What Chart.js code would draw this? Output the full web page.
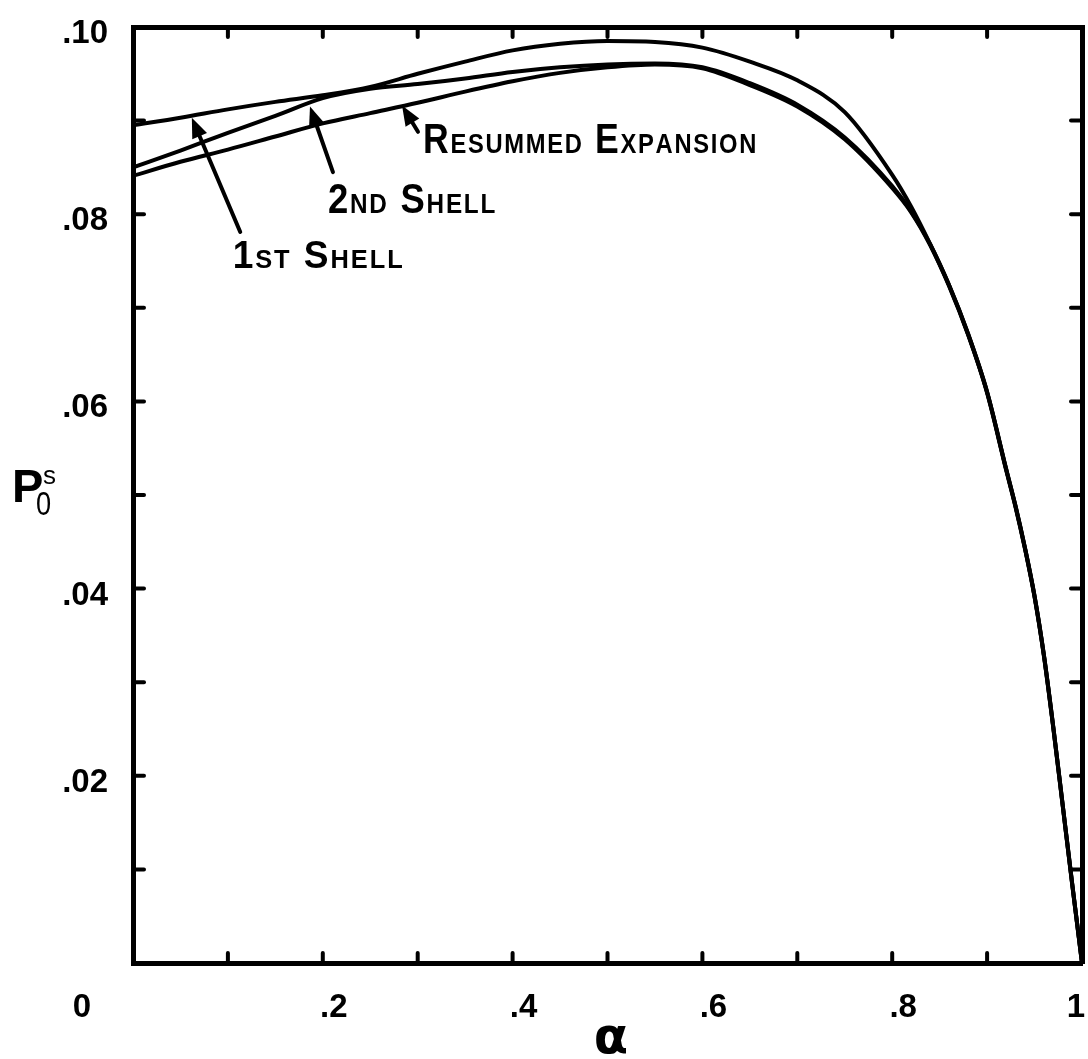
<!DOCTYPE html>
<html><head><meta charset="utf-8">
<script src="https://cdn.jsdelivr.net/npm/chart.js@4/dist/chart.umd.min.js"></script>
<style>html,body{margin:0;padding:0;background:#fff}#wrap{width:1088px;height:1059px}</style>
</head><body><div id="wrap"><canvas id="c" width="1088" height="1059"></canvas></div>
<script>
// ---- data ----
const alpha       = [0, 0.05, 0.1, 0.15, 0.2, 0.25, 0.3, 0.35, 0.4, 0.45, 0.5, 0.55, 0.6, 0.65, 0.7, 0.75, 0.8, 0.82, 0.84, 0.86, 0.88, 0.9, 0.92, 0.93, 0.94, 0.95, 0.96, 0.97, 0.98, 0.99, 1.0];
const firstShell  = [0.0895, 0.0903, 0.0912, 0.0920, 0.0927, 0.0936, 0.0950, 0.0963, 0.0975, 0.0982, 0.0985, 0.0984, 0.0978, 0.0963, 0.0943, 0.0909, 0.0842, 0.0808, 0.0768, 0.0724, 0.0672, 0.0610, 0.0528, 0.0488, 0.0443, 0.0392, 0.0328, 0.0250, 0.0166, 0.0082, 0.0];
const secondShell = [0.0850, 0.0868, 0.0887, 0.0905, 0.0924, 0.0934, 0.0939, 0.0945, 0.0952, 0.0957, 0.0960, 0.0961, 0.0957, 0.0940, 0.0917, 0.0882, 0.0830, 0.0803, 0.0768, 0.0724, 0.0672, 0.0610, 0.0528, 0.0488, 0.0443, 0.0392, 0.0328, 0.0250, 0.0166, 0.0082, 0.0];
const resummed    = [0.0841, 0.0856, 0.0869, 0.0883, 0.0897, 0.0908, 0.0919, 0.0931, 0.0942, 0.0951, 0.0957, 0.0960, 0.0956, 0.0938, 0.0915, 0.0880, 0.0828, 0.0802, 0.0767, 0.0723, 0.0671, 0.0609, 0.0527, 0.0487, 0.0442, 0.0391, 0.0327, 0.0249, 0.0165, 0.0081, 0.0];
const xTickValues = [0, 0.2, 0.4, 0.6, 0.8, 1];
const xTickLabels = ['0', '.2', '.4', '.6', '.8', '1'];
const yTickValues = [0.02, 0.04, 0.06, 0.08, 0.10];
const yTickLabels = ['.02', '.04', '.06', '.08', '.10'];
const seriesNames = ['1st Shell', '2nd Shell', 'Resummed Expansion'];

const pts = arr => alpha.map((a, i) => ({x: a, y: arr[i]}));
const BOLD = '"Liberation Sans", Arial, sans-serif';

function capsText(ctx, text, x, y, big, small, width) {
  // small-caps lettering: capitals/digits big, lowercase drawn as small capitals
  const parts = [...text].map(ch => {
    const isSmall = ch !== ch.toUpperCase();
    return {ch: ch.toUpperCase(), size: isSmall ? small : big};
  });
  let total = 0;
  parts.forEach(p => { ctx.font = 'bold ' + p.size + 'px ' + BOLD; p.w = ctx.measureText(p.ch).width + 2; total += p.w; });
  ctx.save();
  ctx.translate(x, y);
  ctx.scale(width / total, 1);
  ctx.textBaseline = 'alphabetic';
  ctx.textAlign = 'left';
  let cx = 0;
  parts.forEach(p => { ctx.font = 'bold ' + p.size + 'px ' + BOLD; ctx.fillText(p.ch, cx, 0); cx += p.w; });
  ctx.restore();
}

function arrow(ctx, x1, y1, x2, y2) {
  const ang = Math.atan2(y2 - y1, x2 - x1);
  const L = 20, W = 8;
  ctx.beginPath();
  ctx.moveTo(x1, y1);
  ctx.lineTo(x2 - Math.cos(ang) * L * 0.7, y2 - Math.sin(ang) * L * 0.7);
  ctx.lineWidth = 4; ctx.lineCap = 'round'; ctx.stroke();
  ctx.beginPath();
  ctx.moveTo(x2, y2);
  ctx.lineTo(x2 - Math.cos(ang) * L + Math.sin(ang) * W, y2 - Math.sin(ang) * L - Math.cos(ang) * W);
  ctx.lineTo(x2 - Math.cos(ang) * L - Math.sin(ang) * W, y2 - Math.sin(ang) * L + Math.cos(ang) * W);
  ctx.closePath(); ctx.fill();
}

const decor = {
  id: 'decor',
  afterDraw(chart) {
    const ctx = chart.ctx, xs = chart.scales.x, ys = chart.scales.y, a = chart.chartArea;
    const X = v => xs.getPixelForValue(v), Y = v => ys.getPixelForValue(v);
    ctx.save();
    ctx.strokeStyle = '#000'; ctx.fillStyle = '#000';
    ctx.lineCap = 'round'; ctx.lineWidth = 4;
    // inward ticks
    xs.ticks.forEach(t => {
      if (t.value <= 0.001 || t.value >= 0.999) return;
      const px = X(t.value);
      ctx.beginPath(); ctx.moveTo(px, a.bottom); ctx.lineTo(px, a.bottom - 10); ctx.stroke();
      ctx.beginPath(); ctx.moveTo(px, a.top); ctx.lineTo(px, a.top + 10); ctx.stroke();
    });
    ys.ticks.forEach(t => {
      if (t.value <= 0.0001 || t.value >= 0.0999) return;
      const py = Y(t.value);
      ctx.beginPath(); ctx.moveTo(a.left, py); ctx.lineTo(a.left + 11, py); ctx.stroke();
      ctx.beginPath(); ctx.moveTo(a.right, py); ctx.lineTo(a.right - 11, py); ctx.stroke();
    });
    // x tick labels
    ctx.font = 'bold 33px ' + BOLD;
    ctx.textAlign = 'center'; ctx.textBaseline = 'middle';
    xTickValues.forEach((v, i) => {
      const dx = v === 0 ? -51 : (v === 1 ? -6 : 11);
      ctx.fillText(xTickLabels[i], X(v) + dx, 1008);
    });
    // x title
    ctx.font = 'bold 50px "DejaVu Sans", sans-serif';
    ctx.fillText('\u03B1', 611, 1040);
    // y title  P_0^s
    ctx.textAlign = 'left'; ctx.textBaseline = 'alphabetic';
    ctx.font = 'bold 47px ' + BOLD;
    ctx.fillText('P', 12, 502);
    ctx.font = '26px ' + BOLD;
    ctx.fillText('s', 43, 484);
    ctx.save(); ctx.translate(36, 515); ctx.scale(0.8, 1);
    ctx.font = '34px ' + BOLD; ctx.fillText('0', 0, 0); ctx.restore();
    // annotations
    arrow(ctx, X(0.113), Y(0.0781), X(0.062), Y(0.0903));
    arrow(ctx, X(0.2107), Y(0.0845), X(0.1865), Y(0.0915));
    arrow(ctx, X(0.3003), Y(0.0888), X(0.2835), Y(0.0916));
    capsText(ctx, seriesNames[0], X(0.105), Y(0.0743), 38, 26, 172);
    capsText(ctx, seriesNames[1], X(0.2055), Y(0.0801), 42, 28, 169);
    capsText(ctx, seriesNames[2], X(0.3056), Y(0.0865), 42, 28, 335);
    ctx.restore();
  }
};

const gridOpts = {display: true, drawOnChartArea: false, drawTicks: false};
const borderOpts = {display: true, width: 5, color: '#000'};
const noPad = s => { s.paddingTop = 0; s.paddingBottom = 0; s.paddingLeft = 0; s.paddingRight = 0; };

new Chart(document.getElementById('c'), {
  type: 'line',
  data: {
    datasets: [
      {label: seriesNames[0], data: pts(firstShell)},
      {label: seriesNames[1], data: pts(secondShell)},
      {label: seriesNames[2], data: pts(resummed)}
    ].map(d => Object.assign(d, {borderColor: '#000', borderWidth: 4, pointRadius: 0, fill: false, cubicInterpolationMode: 'monotone'}))
  },
  options: {
    responsive: false, animation: false, devicePixelRatio: 1,
    layout: {padding: 0},
    plugins: {legend: {display: false}, tooltip: {enabled: false}},
    scales: {
      x: {type: 'linear', position: 'bottom', min: 0, max: 1,
          ticks: {display: false, stepSize: 0.1}, grid: gridOpts, border: borderOpts,
          afterFit(s) { s.height = 96; noPad(s); }},
      x2: {type: 'linear', position: 'top', min: 0, max: 1,
          ticks: {display: false, stepSize: 0.1}, grid: gridOpts, border: borderOpts,
          afterFit(s) { s.height = 27; noPad(s); }},
      y: {type: 'linear', position: 'left', min: 0, max: 0.1,
          ticks: {stepSize: 0.01, color: '#000', padding: 25, labelOffset: 7,
                  font: {family: BOLD, size: 33, weight: 'bold'},
                  callback(v) { const i = yTickValues.findIndex(t => Math.abs(t - v) < 1e-6); return i >= 0 ? yTickLabels[i] : ''; }},
          grid: gridOpts, border: borderOpts,
          afterFit(s) { s.width = 133; noPad(s); }},
      y2: {type: 'linear', position: 'right', min: 0, max: 0.1,
          ticks: {display: false, stepSize: 0.01}, grid: gridOpts, border: borderOpts,
          afterFit(s) { s.width = 6; noPad(s); }}
    }
  },
  plugins: [decor]
});
</script>
</body></html>
